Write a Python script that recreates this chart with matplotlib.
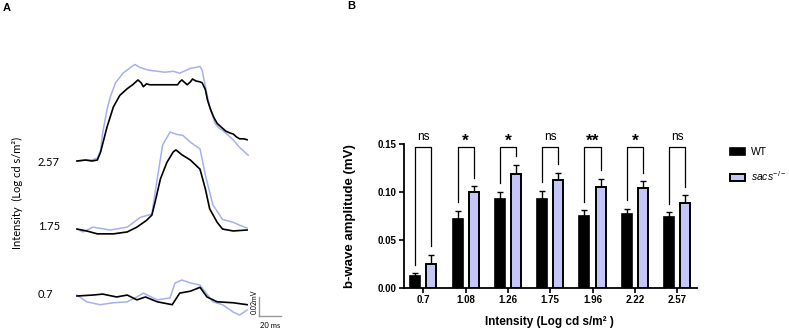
import matplotlib
matplotlib.use('Agg')
import matplotlib.pyplot as plt
import numpy as np
from matplotlib.patches import Patch

plt.rcParams['font.family'] = ['Liberation Sans', 'DejaVu Sans']
plt.rcParams['mathtext.fontset'] = 'custom'
plt.rcParams['mathtext.rm'] = 'Liberation Sans'
plt.rcParams['mathtext.it'] = 'Liberation Sans:italic'
plt.rcParams['mathtext.bf'] = 'Liberation Sans:bold'

# ---------------- Panel A data (time in ms, amplitude in mV) ----------------
trace_labels = ['2.57', '1.75', '0.7']

wt_t_257 = [0, 8, 14, 19, 22, 28, 34, 40, 47, 52, 57, 60, 62, 65, 68, 78, 87, 94, 96, 98,
            101, 103, 106, 108, 111, 115, 117, 120, 122, 125, 128, 131, 134, 136, 139, 143,
            146, 149, 152, 156, 159]
wt_v_257 = [0, 0.001, 0, 0.001, 0.009, 0.035, 0.056, 0.068, 0.075, 0.079, 0.084, 0.081,
            0.077, 0.080, 0.079, 0.079, 0.079, 0.079, 0.082, 0.084, 0.081, 0.079, 0.082,
            0.085, 0.083, 0.082, 0.081, 0.074, 0.063, 0.053, 0.045, 0.039, 0.036, 0.034,
            0.031, 0.029, 0.028, 0.025, 0.023, 0.023, 0.022]
ko_t_257 = [0, 8, 14, 19, 22, 24, 28, 31, 36, 43, 50, 54, 59, 64, 68, 75, 82, 90, 96, 102,
            106, 111, 115, 117, 120, 124, 129, 133, 136, 141, 146, 152, 160]
ko_v_257 = [0, 0.001, 0.001, 0.003, 0.011, 0.029, 0.053, 0.066, 0.081, 0.091, 0.097, 0.100,
            0.097, 0.095, 0.094, 0.093, 0.092, 0.093, 0.091, 0.094, 0.096, 0.097, 0.098,
            0.094, 0.077, 0.056, 0.039, 0.034, 0.032, 0.027, 0.022, 0.014, 0.006]

wt_t_175 = [0, 9, 19, 34, 47, 56, 65, 70, 73, 78, 84, 90, 92.5, 98, 106, 115, 120, 124,
            131, 136, 146, 159]
wt_v_175 = [0, -0.002, -0.005, -0.005, -0.003, 0.002, 0.009, 0.0145, 0.028, 0.052, 0.069,
            0.080, 0.082, 0.077, 0.0715, 0.062, 0.0415, 0.021, 0.007, 0, -0.002, -0.001]
ko_t_175 = [0, 5.6, 15, 31, 47, 59, 70, 75, 80, 87, 93.5, 99, 106, 115, 120, 127, 136,
            146, 152, 159]
ko_v_175 = [0, -0.003, 0.002, -0.001, 0.002, 0.012, 0.0155, 0.052, 0.087, 0.1005, 0.098,
            0.097, 0.090, 0.083, 0.056, 0.025, 0.010, 0.007, 0.004, 0.001]

wt_t_07 = [0, 15, 24, 37, 47, 56, 64, 75, 89, 96, 106, 115, 121.5, 131, 146, 159]
wt_v_07 = [0, 0.001, 0.002, -0.001, 0.001, -0.004, -0.001, -0.006, -0.009, 0.003, 0.005,
           0.009, -0.001, -0.006, -0.007, -0.009]
ko_t_07 = [0, 9, 21.5, 34, 47, 56, 62, 75, 87, 91.6, 98, 106, 115, 120, 127, 136, 146, 152, 159]
ko_v_07 = [0.001, -0.006, -0.009, -0.007, -0.006, -0.001, 0.003, -0.004, -0.002, 0.0135,
           0.0166, 0.0135, 0.0114, 0.004, -0.006, -0.009, -0.0166, -0.0197, -0.0145]

# ---------------- Panel B data ----------------
intensities = ['0.7', '1.08', '1.26', '1.75', '1.96', '2.22', '2.57']
wt_mean = [0.0122, 0.0719, 0.0924, 0.0924, 0.0750, 0.0771, 0.0733]
wt_sem = [0.0027, 0.0080, 0.0073, 0.0083, 0.0056, 0.0052, 0.0052]
ko_mean = [0.0243, 0.0993, 0.1188, 0.1125, 0.1045, 0.1038, 0.0882]
ko_sem = [0.0097, 0.0063, 0.0090, 0.0075, 0.0090, 0.0070, 0.0080]
signif = ['ns', '*', '*', 'ns', '**', '*', 'ns']

W, H = 789, 332
fig = plt.figure(figsize=(W / 100, H / 100), dpi=100)


def fx(px):
    return px / W


def fy(py):
    return 1 - py / H


BLUE_LINE = '#a6aff3'
BLUE_FILL = '#c3c6f6'

# ---------------- Panel A ----------------
axA = fig.add_axes([fx(70), 0, 220 / W, 292 / H])
axA.set_xlim(-6.54, 199.1)
axA.set_ylim(0, 0.3026)
axA.axis('off')
offsets = [0.1772, 0.1067, 0.0373]
traces = [(wt_t_257, wt_v_257, ko_t_257, ko_v_257),
          (wt_t_175, wt_v_175, ko_t_175, ko_v_175),
          (wt_t_07, wt_v_07, ko_t_07, ko_v_07)]
for off, (wt_t, wt_v, ko_t, ko_v) in zip(offsets, traces):
    axA.plot(ko_t, np.array(ko_v) + off, color=BLUE_LINE, lw=1.1)
    axA.plot(wt_t, np.array(wt_v) + off, color='black', lw=1.2)

label_y_px = [162, 226, 295]
for lab, ypx in zip(trace_labels, label_y_px):
    fig.text(fx(38), fy(ypx), lab, ha='left', va='center', fontsize=8,
             family=['Lato', 'DejaVu Sans'])
fig.text(fx(17), fy(193), 'Intensity  (Log cd s/m\u00b2)', rotation=90, ha='center',
         va='center', fontsize=8, family=['Lato', 'DejaVu Sans'])
fig.text(fx(3), fy(8), 'A', ha='left', va='center', fontsize=8, fontweight='bold')

# scale bar
sb_t0, sb_v0 = 170.4, 0.0166
axA.plot([sb_t0, sb_t0], [sb_v0, sb_v0 + 0.02], color='#999999', lw=1.0)
axA.plot([sb_t0, sb_t0 + 20], [sb_v0, sb_v0], color='#999999', lw=1.0)
fig.text(fx(254), fy(302), '0.02mV', rotation=90, ha='center', va='center', fontsize=5,
         family=['Lato', 'DejaVu Sans'])
fig.text(fx(270), fy(325), '20 ms', ha='center', va='center', fontsize=5.5,
         family=['Lato', 'DejaVu Sans'])

# ---------------- Panel B ----------------
axB = fig.add_axes([fx(404), 1 - 287.7 / H, 293 / W, 144 / H])
x = np.arange(len(intensities))
off = 0.19
bw = 0.236
axB.bar(x - off, wt_mean, width=bw, color='black', edgecolor='black', lw=1.2, zorder=3)
axB.bar(x + off, ko_mean, width=bw, color=BLUE_FILL, edgecolor='black', lw=1.4, zorder=3)
axB.errorbar(x - off, wt_mean, yerr=[np.zeros(len(x)), wt_sem], fmt='none', ecolor='black',
             elinewidth=1.0, capsize=2, capthick=1.0, zorder=2)
axB.errorbar(x + off, ko_mean, yerr=[np.zeros(len(x)), ko_sem], fmt='none', ecolor='black',
             elinewidth=1.0, capsize=2, capthick=1.0, zorder=2)

top = 0.1462
gap = 0.009
for i in range(len(x)):
    yl = wt_mean[i] + wt_sem[i] + gap
    yr = ko_mean[i] + ko_sem[i] + gap
    axB.plot([x[i] - off, x[i] - off, x[i] + off, x[i] + off], [yl, top, top, yr],
             color='black', lw=0.9, clip_on=False)
    s = signif[i]
    if s == 'ns':
        axB.text(x[i], 0.1565, s, ha='center', va='center', fontsize=8.5, clip_on=False)
    else:
        axB.text(x[i], 0.1525, s, ha='center', va='center', fontsize=12.5, fontweight='bold',
                 clip_on=False)

axB.set_xlim(-0.456, 6.47)
axB.set_ylim(0, 0.15)
axB.set_xticks(x)
axB.set_xticklabels(intensities, fontsize=7, fontweight='bold')
axB.set_yticks([0, 0.05, 0.10, 0.15])
axB.set_yticklabels(['0.00', '0.05', '0.10', '0.15'], fontsize=7, fontweight='bold')
for sp in ['top', 'right']:
    axB.spines[sp].set_visible(False)
for sp in ['left', 'bottom']:
    axB.spines[sp].set_linewidth(1.3)
axB.tick_params(axis='both', length=3.5, width=1.2, pad=2)
axB.set_ylabel('b-wave amplitude (mV)', fontsize=9.5, fontweight='bold')
axB.yaxis.set_label_coords(-0.165, 0.5)
axB.set_xlabel('Intensity (Log cd s/m\u00b2 )', fontsize=8.5, fontweight='bold')
axB.xaxis.set_label_coords(0.498, -0.2)
fig.text(fx(347), fy(6), 'B', ha='left', va='center', fontsize=8, fontweight='bold')

handles = [Patch(facecolor='black', edgecolor='black', lw=1.2, label='WT'),
           Patch(facecolor=BLUE_FILL, edgecolor='black', lw=1.4, label=r'$\it{sacs}^{-/-}$')]
axB.legend(handles=handles, loc='upper left', bbox_to_anchor=(fx(730), fy(147)),
           bbox_transform=fig.transFigure, frameon=False, fontsize=7.5, handlelength=1.4,
           handleheight=0.6, labelspacing=1.2, handletextpad=0.6, borderpad=0,
           borderaxespad=0)

fig.savefig('out.png', dpi=100)
